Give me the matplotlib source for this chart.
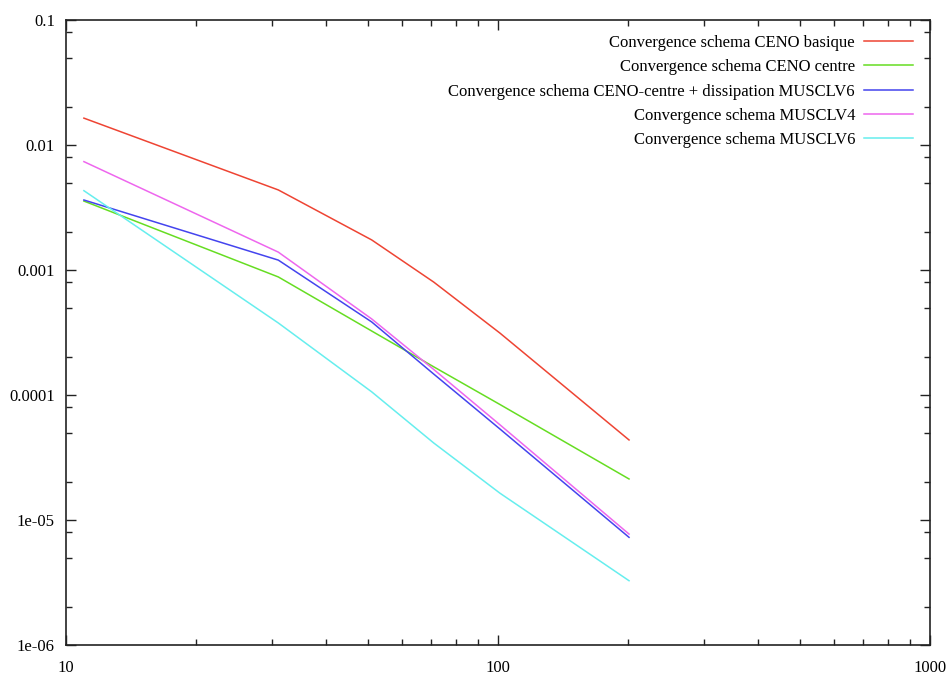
import numpy as np
from matplotlib import pyplot as plt
from matplotlib.ticker import LogLocator, FixedLocator, FixedFormatter, NullFormatter

# maillages (nombre de points)
n_points = [11, 31, 51, 71, 101, 201]

err_ceno_basique = [1.64e-2, 4.37e-3, 1.74e-3, 8.0e-4, 3.13e-4, 4.37e-5]
err_ceno_centre = [3.56e-3, 8.8e-4, 3.25e-4, 1.68e-4, 8.4e-5, 2.13e-5]
err_ceno_diss = [3.63e-3, 1.2e-3, 3.84e-4, 1.47e-4, 5.35e-5, 7.27e-6]
err_musclv4 = [7.36e-3, 1.39e-3, 4.06e-4, 1.6e-4, 5.78e-5, 7.72e-6]
err_musclv6 = [4.31e-3, 3.77e-4, 1.06e-4, 4.13e-5, 1.64e-5, 3.27e-6]

labels = ["Convergence schema CENO basique",
          "Convergence schema CENO centre",
          "Convergence schema CENO-centre + dissipation MUSCLV6",
          "Convergence schema MUSCLV4",
          "Convergence schema MUSCLV6"]

xticks = [10, 100, 1000]
xticklabels = ["10", "100", "1000"]
yticks = [1e-6, 1e-5, 1e-4, 1e-3, 1e-2, 1e-1]
yticklabels = ["1e-06", "1e-05", "0.0001", "0.001", "0.01", "0.1"]

plt.rcParams['font.family'] = ['Liberation Serif', 'DejaVu Serif']
plt.rcParams['font.size'] = 12

fig = plt.figure(figsize=(9.5, 6.75), dpi=100)
ax = fig.add_axes([0.0695, 0.0444, 0.9095, 0.926])

colors = ['#ee4433', '#66dd22', '#4444ee', '#ee66ee', '#66eeee']
series = [err_ceno_basique, err_ceno_centre, err_ceno_diss, err_musclv4, err_musclv6]
for ys, c, lab in zip(series, colors, labels):
    ax.plot(n_points, ys, color=c, lw=1.1, label=lab)

ax.set_xscale('log')
ax.set_yscale('log')
ax.set_xlim(10, 1000)
ax.set_ylim(1e-6, 0.1)

ax.xaxis.set_major_locator(FixedLocator(xticks))
ax.xaxis.set_major_formatter(FixedFormatter(xticklabels))
ax.xaxis.set_minor_locator(LogLocator(base=10, subs=np.arange(2, 10)))
ax.xaxis.set_minor_formatter(NullFormatter())
ax.yaxis.set_major_locator(FixedLocator(yticks))
ax.yaxis.set_major_formatter(FixedFormatter(yticklabels))
ax.yaxis.set_minor_locator(LogLocator(base=10, subs=[2, 5, 8]))
ax.yaxis.set_minor_formatter(NullFormatter())

ax.tick_params(which='both', direction='in', top=True, right=True, width=1.0, colors='#222222')
ax.tick_params(which='major', length=7, labelsize=12, labelcolor='black')
ax.tick_params(which='minor', length=4)
ax.tick_params(axis='y', pad=8)
ax.tick_params(axis='x', pad=11)
for s in ax.spines.values():
    s.set_linewidth(1.2)
    s.set_color('#222222')

leg = ax.legend(loc='upper right', bbox_to_anchor=(1.0, 1.004), frameon=False,
                markerfirst=False, handlelength=2.9, handletextpad=0.55,
                labelspacing=0.5, borderaxespad=0.65, fontsize=12)
for t in leg.get_texts():
    t.set_ha('right')
leg._legend_box.align = 'right'

plt.savefig('out.png', dpi=100)
